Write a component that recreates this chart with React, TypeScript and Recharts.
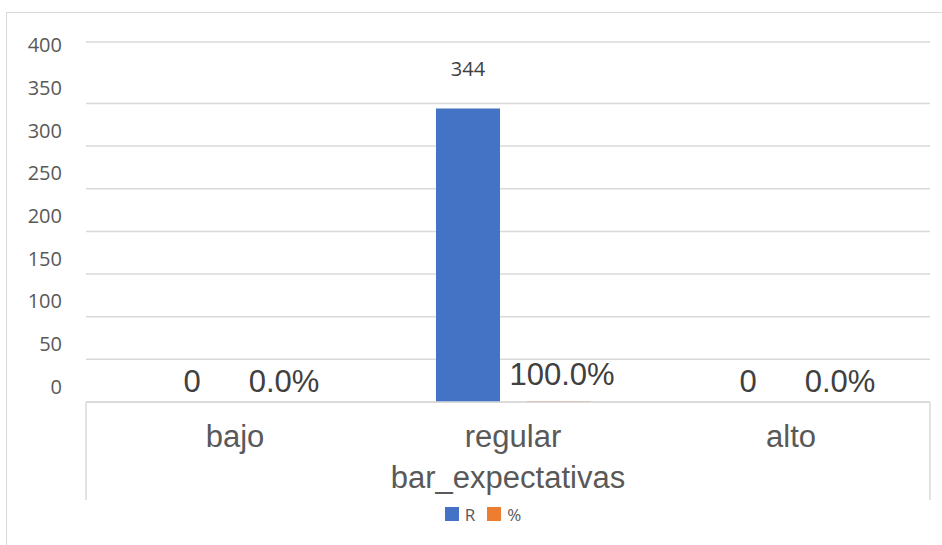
import React from 'react';
import { BarChart, Bar, XAxis, YAxis, CartesianGrid, Legend, LabelList, usePlotArea } from 'recharts';

// counts per expectation level and their share of the total
const categories = ['bajo', 'regular', 'alto'];
const countR = [0, 344, 0];
const shareOfTotal = [0, 1, 0];
const yTicks = [0, 50, 100, 150, 200, 250, 300, 350, 400];
const gridValues = [0, 50, 100, 150, 200, 250, 300, 350, 422];
const yMax = 422;
const groupTitle = 'bar_expectativas';
const seriesKeys = ['R', 'pct'];
const seriesNames = ['R', '%'];
const seriesColors = ['#4472C4', '#ED7D31'];

const data = categories.map((name, i) => ({ name, R: countR[i], pct: shareOfTotal[i] }));

const GRID = '#d9d9d9';
const TEXT = '#595959';
const LABEL = '#404040';
const BIG_FONT = '"Liberation Sans", Arial, sans-serif';
const UI_FONT = '"Open Sans", "Noto Sans", sans-serif';

const fmtPct = (v: number) => `${(v * 100).toFixed(1)}%`;

const YTick = ({ x, y, payload }: any) => (
  <text x={x} y={y - 16} textAnchor="end" dominantBaseline="central" fontFamily={UI_FONT} fontSize={20} fill={TEXT}>
    {payload.value}
  </text>
);

const XTick = ({ x, y, payload }: any) => (
  <text x={x} y={y + 39} textAnchor="middle" fontFamily={BIG_FONT} fontSize={31} fill={TEXT}>
    {payload.value}
  </text>
);

const AxisTitle = ({ viewBox }: any) => (
  <text x={viewBox.x + viewBox.width / 2} y={viewBox.y + 86} textAnchor="middle" fontFamily={BIG_FONT} fontSize={31} fill={TEXT}>
    {groupTitle}
  </text>
);

const countLabel = (props: any) => {
  const { x, y, width, value } = props;
  const cx = x + width / 2;
  if (value > 0) {
    return (
      <text x={cx} y={y - 33} textAnchor="middle" fontFamily={UI_FONT} fontSize={20} fill={LABEL}>
        {value}
      </text>
    );
  }
  return (
    <text x={cx + 2} y={y - 10} textAnchor="middle" fontFamily={BIG_FONT} fontSize={31} fill={LABEL}>
      {value}
    </text>
  );
};

const pctLabel = (props: any) => {
  const { x, y, width, value } = props;
  return (
    <text x={x + width / 2 + 4} y={y - (value > 0 ? 16 : 10)} textAnchor="middle" fontFamily={BIG_FONT} fontSize={31} fill={LABEL}>
      {fmtPct(value)}
    </text>
  );
};

// outer lines of the category group box under the plot
function GroupBracket() {
  const plot = usePlotArea();
  if (!plot) return null;
  const bottom = plot.y + plot.height;
  return (
    <g>
      <line x1={plot.x} x2={plot.x} y1={bottom} y2={bottom + 98} stroke={GRID} strokeWidth={1.5} />
      <line x1={plot.x + plot.width} x2={plot.x + plot.width} y1={bottom} y2={bottom + 98} stroke={GRID} strokeWidth={1.5} />
    </g>
  );
}

const LegendContent = () => (
  <div style={{ display: 'flex', justifyContent: 'center', alignItems: 'center', height: 20, marginLeft: 22, fontFamily: UI_FONT, fontSize: 17, color: TEXT }}>
    {seriesNames.map((name, i) => (
      <span key={name} style={{ display: 'flex', alignItems: 'center', marginRight: 12 }}>
        <span style={{ width: 14, height: 14, background: seriesColors[i], marginRight: 6 }} />
        {name}
      </span>
    ))}
  </div>
);

export default function App() {
  return (
    <div style={{ position: 'absolute', left: 0, top: 0, width: 942, height: 545, background: '#fff', overflow: 'hidden' }}>
      <div style={{ position: 'absolute', left: 6, top: 12, width: 960, height: 560, border: `1.5px solid ${GRID}` }} />
      <div style={{ position: 'absolute', left: 0, top: 0 }}>
        <BarChart
          width={942}
          height={545}
          data={data}
          margin={{ top: 42, right: 12, bottom: 21, left: 26 }}
          barSize={64}
          barGap={26}
        >
          <CartesianGrid vertical={false} horizontalValues={gridValues} stroke={GRID} strokeWidth={1.5} />
          <XAxis
            dataKey="name"
            height={102}
            padding={{ left: 10, right: 0 }}
            axisLine={{ stroke: GRID, strokeWidth: 1.5 }}
            tickLine={false}
            tickMargin={0}
            tick={<XTick />}
            label={<AxisTitle />}
          />
          <YAxis
            width={60}
            domain={[0, yMax]}
            ticks={yTicks}
            axisLine={false}
            tickLine={false}
            tickMargin={18}
            tick={<YTick />}
          />
          <Legend verticalAlign="bottom" height={20} content={<LegendContent />} />
          <Bar dataKey={seriesKeys[0]} name={seriesNames[0]} fill={seriesColors[0]} minPointSize={0.01} isAnimationActive={false}>
            <LabelList dataKey={seriesKeys[0]} content={countLabel} />
          </Bar>
          <Bar dataKey={seriesKeys[1]} name={seriesNames[1]} fill={seriesColors[1]} minPointSize={0.01} isAnimationActive={false}>
            <LabelList dataKey={seriesKeys[1]} content={pctLabel} />
          </Bar>
          <GroupBracket />
        </BarChart>
      </div>
    </div>
  );
}
